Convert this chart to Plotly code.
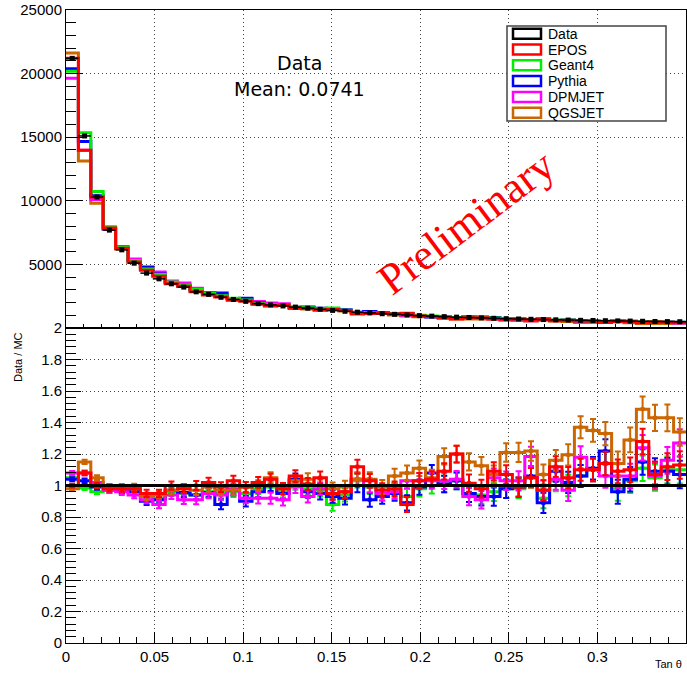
import numpy as np
import plotly.graph_objects as go

# ---------------- binning ----------------
bin_width = 0.007
n_bins = 50
edges = np.round(np.arange(n_bins + 1) * bin_width, 4)
centers = (edges[:-1] + edges[1:]) / 2

# ---------------- top panel: counts ----------------
data_counts = [21200, 15100, 10300, 7700, 6150, 5100, 4320, 3870, 3480, 3220,
               2850, 2650, 2420, 2250, 2100, 1920, 1820, 1740, 1650, 1560,
               1480, 1390, 1320, 1250, 1190, 1130, 1080, 1030, 980, 940,
               900, 860, 830, 800, 770, 740, 715, 690, 670, 650,
               630, 610, 595, 580, 565, 550, 535, 520, 510, 500]
data_err = [146, 123, 101, 88, 78, 71, 66, 62, 59, 57, 53, 51, 49, 47, 46, 44, 43, 42, 41, 39,
            38, 37, 36, 35, 34, 34, 33, 32, 31, 31, 30, 29, 29, 28, 28, 27, 27, 26, 26, 25,
            25, 25, 24, 24, 24, 23, 23, 23, 23, 22]

epos = [21200, 13980, 10300, 7860, 6280, 5200, 4550, 4070, 3480, 3290,
        2850, 2600, 2440, 2180, 2120, 1880, 1750, 1780, 1560, 1545,
        1410, 1460, 1375, 1115, 1155, 1165, 1100, 1170, 950, 905,
        825, 715, 820, 815, 705, 690, 720, 655, 690, 580,
        600, 555, 540, 510, 520, 500, 420, 485, 455, 440]
geant4 = [20190, 15350, 10730, 7940, 6340, 5310, 4645, 4205, 3625, 3390,
          3030, 2760, 2550, 2345, 2210, 1960, 1840, 1810, 1635, 1590,
          1525, 1580, 1405, 1215, 1200, 1190, 1115, 1110, 1000, 940,
          890, 835, 875, 850, 800, 755, 730, 655, 730, 630,
          630, 575, 540, 510, 575, 535, 480, 495, 465, 455]
pythia = [20385, 14660, 10400, 7780, 6340, 5310, 4800, 4250, 3590, 3370,
          3030, 2775, 2750, 2320, 2335, 2000, 1820, 1830, 1585, 1625,
          1560, 1495, 1435, 1250, 1310, 1215, 1135, 1155, 990, 870,
          890, 835, 875, 860, 830, 755, 720, 650, 755, 595,
          620, 575, 535, 475, 590, 530, 465, 475, 470, 465]
dpmjet = [19630, 13980, 10100, 7940, 6405, 5425, 4745, 4400, 3700, 3540,
          3130, 2790, 2575, 2295, 2285, 2085, 1980, 1910, 1665, 1675,
          1510, 1465, 1375, 1200, 1190, 1190, 1125, 1000, 950, 915,
          875, 825, 890, 880, 735, 720, 695, 580, 690, 625,
          650, 515, 540, 545, 535, 520, 430, 490, 440, 395]
qgsjet = [21630, 13130, 9810, 7780, 6210, 5150, 4645, 4115, 3590, 3285,
          2940, 2675, 2495, 2320, 2120, 1920, 1735, 1775, 1600, 1500,
          1480, 1420, 1335, 1200, 1145, 1140, 1020, 955, 885, 895,
          760, 715, 720, 710, 720, 610, 590, 565, 625, 560,
          525, 445, 440, 435, 495, 425, 360, 365, 355, 375]

# ---------------- bottom panel: Data / MC ----------------
ratio_epos = [1.00, 1.08, 1.00, 0.98, 0.98, 0.98, 0.95, 0.95, 1.00, 0.98,
              1.00, 1.02, 0.99, 1.03, 0.99, 1.02, 1.04, 0.98, 1.06, 1.01,
              1.05, 0.95, 0.96, 1.12, 1.03, 0.97, 0.98, 0.88, 1.03, 1.04,
              1.09, 1.20, 1.015, 0.98, 1.09, 1.07, 0.99, 1.05, 0.97, 1.12,
              1.05, 1.10, 1.10, 1.14, 1.09, 1.10, 1.28, 1.07, 1.12, 1.13]
ratio_geant4 = [1.05, 0.985, 0.96, 0.97, 0.97, 0.96, 0.93, 0.92, 0.96, 0.95,
                0.94, 0.96, 0.95, 0.96, 0.95, 0.98, 0.99, 0.96, 1.01, 0.98,
                0.97, 0.88, 0.94, 1.03, 0.99, 0.95, 0.97, 0.93, 0.98, 1.00,
                1.01, 1.03, 0.95, 0.94, 0.96, 0.98, 0.98, 1.05, 0.92, 1.03,
                1.00, 1.06, 1.10, 1.14, 0.98, 1.03, 1.11, 1.05, 1.10, 1.10]
ratio_pythia = [1.04, 1.03, 0.99, 0.99, 0.97, 0.96, 0.90, 0.91, 0.97, 0.955,
                0.94, 0.955, 0.88, 0.97, 0.90, 0.96, 1.00, 0.95, 1.04, 0.96,
                0.95, 0.93, 0.92, 1.00, 0.91, 0.93, 0.95, 0.89, 0.99, 1.08,
                1.01, 1.03, 0.95, 0.93, 0.93, 0.98, 0.99, 1.06, 0.89, 1.09,
                1.02, 1.06, 1.11, 1.22, 0.96, 1.04, 1.15, 1.09, 1.09, 1.07]
ratio_dpmjet = [1.08, 1.08, 1.02, 0.97, 0.96, 0.94, 0.91, 0.88, 0.94, 0.91,
                0.91, 0.95, 0.94, 0.98, 0.92, 0.92, 0.92, 0.91, 0.99, 0.93,
                0.98, 0.95, 0.96, 1.04, 1.00, 0.95, 0.96, 1.03, 1.03, 1.03,
                1.03, 1.04, 0.93, 0.91, 1.05, 1.03, 1.03, 1.185, 0.97, 1.04,
                0.97, 1.18, 1.10, 1.06, 1.06, 1.06, 1.24, 1.06, 1.16, 1.27]
ratio_qgsjet = [0.98, 1.15, 1.05, 0.99, 0.99, 0.99, 0.93, 0.94, 0.97, 0.98,
                0.97, 0.99, 0.97, 0.97, 0.99, 1.00, 1.05, 0.98, 1.03, 1.04,
                1.00, 0.98, 0.99, 1.04, 1.04, 0.99, 1.06, 1.08, 1.11, 1.05,
                1.185, 1.20, 1.15, 1.125, 1.07, 1.21, 1.21, 1.22, 1.07, 1.16,
                1.195, 1.37, 1.35, 1.33, 1.14, 1.29, 1.485, 1.43, 1.43, 1.34]
ratio_err = [0.012, 0.014, 0.016, 0.018, 0.020, 0.021, 0.023, 0.024, 0.026, 0.028,
             0.029, 0.030, 0.031, 0.032, 0.033, 0.034, 0.035, 0.036, 0.037, 0.038,
             0.039, 0.040, 0.041, 0.043, 0.044, 0.045, 0.046, 0.048, 0.049, 0.050,
             0.052, 0.053, 0.055, 0.056, 0.058, 0.059, 0.061, 0.062, 0.064, 0.066,
             0.068, 0.070, 0.072, 0.074, 0.076, 0.078, 0.081, 0.083, 0.085, 0.087]
data_ratio = [1.0] * n_bins

legend_names = ["Data", "EPOS", "Geant4", "Pythia", "DPMJET", "QGSJET"]
colors = {"Data": "#000000", "EPOS": "#ff0000", "Geant4": "#00ee00",
          "Pythia": "#0000ff", "DPMJET": "#ff00ff", "QGSJET": "#cc6600"}

top_mc = {"EPOS": epos, "Geant4": geant4, "Pythia": pythia, "DPMJET": dpmjet, "QGSJET": qgsjet}
ratios = {"EPOS": ratio_epos, "Geant4": ratio_geant4, "Pythia": ratio_pythia,
          "DPMJET": ratio_dpmjet, "QGSJET": ratio_qgsjet}

top_order = ["QGSJET", "DPMJET", "Pythia", "Geant4", "EPOS"]
bot_order = ["Geant4", "Pythia", "DPMJET", "QGSJET", "EPOS"]

fig = go.Figure()


def step(vals):
    v = list(vals)
    return list(edges), v + [v[-1]]


for name in top_order:
    xs, ys = step(top_mc[name])
    fig.add_trace(go.Scatter(x=xs, y=ys, mode="lines", line=dict(color=colors[name], width=3, shape="hv"),
                             xaxis="x", yaxis="y", showlegend=False, hoverinfo="skip"))

half_w = list((edges[1:] - edges[:-1]) / 2)
fig.add_trace(go.Scatter(x=centers, y=data_counts, mode="markers",
                         marker=dict(color="black", size=5, symbol="square"),
                         error_x=dict(type="data", array=half_w, color="black", thickness=1.5, width=0),
                         error_y=dict(type="data", array=data_err, color="black", thickness=1.5, width=0),
                         xaxis="x", yaxis="y", showlegend=False))

for name in bot_order:
    xs, ys = step(ratios[name])
    fig.add_trace(go.Scatter(x=xs, y=ys, mode="lines", line=dict(color=colors[name], width=3, shape="hv"),
                             xaxis="x2", yaxis="y2", showlegend=False, hoverinfo="skip"))
    fig.add_trace(go.Scatter(x=centers, y=ratios[name], mode="markers",
                             marker=dict(color=colors[name], size=4, symbol="square"),
                             error_y=dict(type="data", array=ratio_err, color=colors[name], thickness=2, width=3),
                             xaxis="x2", yaxis="y2", showlegend=False))

xs, ys = step(data_ratio)
fig.add_trace(go.Scatter(x=xs, y=ys, mode="lines", line=dict(color="black", width=3, shape="hv"),
                         xaxis="x2", yaxis="y2", showlegend=False))

split = 0.4975
tickfont = dict(family="Liberation Sans, Arial", size=15, color="black")
grid = dict(showgrid=True, gridcolor="#444444", gridwidth=1, griddash="1px,3px")
xt = [0, 0.05, 0.1, 0.15, 0.2, 0.25, 0.3, 0.35]
xl = ["0", "0.05", "0.1", "0.15", "0.2", "0.25", "0.3", "0.35"]
yt_top = [0, 5000, 10000, 15000, 20000, 25000]
yl_top = ["", "5000", "10000", "15000", "20000", "25000"]
yt_bot = [0, 0.2, 0.4, 0.6, 0.8, 1.0, 1.2, 1.4, 1.6, 1.8, 2.0]
yl_bot = ["0", "0.2", "0.4", "0.6", "0.8", "1", "1.2", "1.4", "1.6", "1.8", "2"]

common_axis = dict(showline=True, linecolor="black", linewidth=1, mirror=True, zeroline=False,
                   ticks="inside", tickcolor="black", tickfont=tickfont, **grid)

fig.update_layout(
    width=687, height=673,
    margin=dict(l=66, r=1, t=10, b=30),
    paper_bgcolor="white", plot_bgcolor="white",
    xaxis=dict(domain=[0, 1], anchor="y", range=[0, 0.35], tickmode="array", tickvals=xt, ticktext=xl,
               showticklabels=False, ticklen=9,
               minor=dict(tickmode="linear", tick0=0, dtick=0.01, ticks="inside", ticklen=4,
                          tickcolor="black", showgrid=False),
               **common_axis),
    yaxis=dict(domain=[split, 1], anchor="x", range=[0, 25000], tickmode="array", tickvals=yt_top,
               ticktext=yl_top, ticklen=17,
               minor=dict(tickmode="linear", tick0=0, dtick=1000, ticks="inside", ticklen=10,
                          tickcolor="black", showgrid=False),
               **common_axis),
    xaxis2=dict(domain=[0, 1], anchor="y2", range=[0, 0.35], matches="x", tickmode="array", tickvals=xt,
                ticktext=xl, ticklen=11,
                minor=dict(tickmode="linear", tick0=0, dtick=0.01, ticks="inside", ticklen=6,
                           tickcolor="black", showgrid=False),
                **common_axis),
    yaxis2=dict(domain=[0, split], anchor="x2", range=[0, 2], tickmode="array", tickvals=yt_bot,
                ticktext=yl_bot, ticklen=15,
                minor=dict(tickmode="linear", tick0=0, dtick=0.04, ticks="inside", ticklen=10,
                           tickcolor="black", showgrid=False),
                **common_axis),
)

W, H = 620.0, 633.0


def px(x):
    return (x - 66) / W


def py(y):
    return (643 - y) / H


annotations = [
    dict(text="Data", x=px(299), y=py(63), font=dict(family="DejaVu Sans", size=19, color="black")),
    dict(text="Mean: 0.0741", x=px(299), y=py(89), font=dict(family="DejaVu Sans", size=19, color="black")),
    dict(text="Preliminary", x=px(466), y=py(222), textangle=-37,
         font=dict(family="Liberation Serif, Times New Roman", size=44, color="#ff0000")),
    dict(text="Data / MC", x=px(18), y=py(357), textangle=-90,
         font=dict(family="Liberation Sans, Arial", size=11, color="black")),
    dict(text="Tan θ", x=px(668), y=py(664),
         font=dict(family="Liberation Sans, Arial", size=11, color="black")),
]

shapes = [dict(type="rect", xref="paper", yref="paper", x0=px(507), x1=px(666), y0=py(121), y1=py(26),
               line=dict(color="#444444", width=1.5), fillcolor="white", layer="above")]
for i, name in enumerate(legend_names):
    yc = 33.7 + 15.8 * i
    shapes.append(dict(type="rect", xref="paper", yref="paper", x0=px(513), x1=px(541),
                       y0=py(yc + 5), y1=py(yc - 5), line=dict(color=colors[name], width=2.5),
                       fillcolor="white", layer="above"))
    annotations.append(dict(text=name, x=px(546), y=py(yc), xanchor="left",
                            font=dict(family="Liberation Sans, Arial", size=14, color="black")))

for a in annotations:
    a.setdefault("xref", "paper")
    a.setdefault("yref", "paper")
    a.setdefault("showarrow", False)
    a.setdefault("xanchor", "center")
    a.setdefault("yanchor", "middle")

fig.update_layout(annotations=annotations, shapes=shapes)

fig.write_html("out.html")
